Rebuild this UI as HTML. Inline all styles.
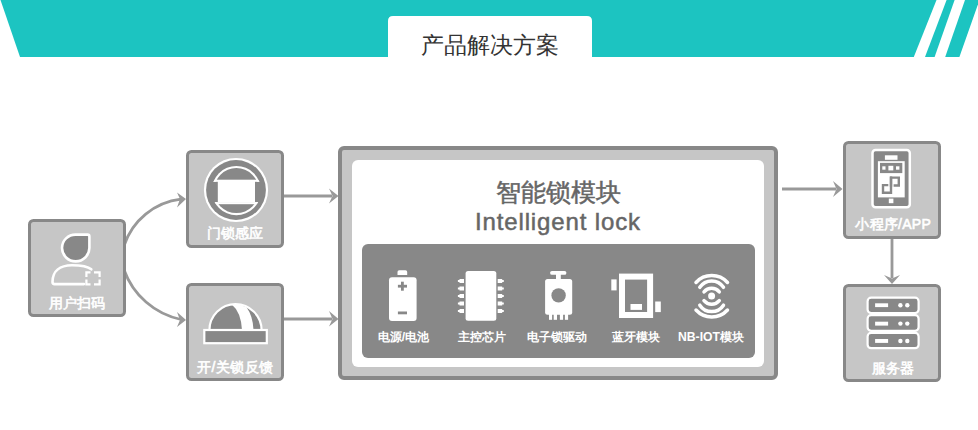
<!DOCTYPE html>
<html><head><meta charset="utf-8">
<style>
html,body{margin:0;padding:0;background:#fff;width:978px;height:430px;overflow:hidden;}
svg{display:block;font-family:"Liberation Sans",sans-serif;}
</style></head>
<body>
<svg width="978" height="430" viewBox="0 0 978 430">
<!-- header banner -->
<polygon points="0.5,0 936.5,0 913.8,57 20,57" fill="#1cc4c1"/>
<polygon points="946.6,0 954.6,0 934.6,57 925,57" fill="#1cc4c1"/>
<polygon points="965,0 979.5,0 959.4,57 945.2,57" fill="#1cc4c1"/>
<path d="M388,57 V21 Q388,16 393,16 H587 Q592,16 592,21 V57 Z" fill="#fff"/>
<text x="490" y="53" font-size="23" fill="#333" text-anchor="middle">产品解决方案</text>

<!-- arrows -->
<g stroke="#999" stroke-width="2.8" fill="none">
<path d="M124,245.7 A68.3,68.3 0 0 1 181,199.2"/>
<path d="M124,269.7 A77.5,77.5 0 0 0 181,319.5"/>
<path d="M284,196 H332"/>
<path d="M284,319 H332"/>
<path d="M782,189 H836"/>
<path d="M892,239 V278"/>
</g>
<g fill="#999">
<path d="M186,199 L177,192.5 L180,199 L177,207.5 Z"/>
<path d="M186,320 L177,312 L180,320 L177,327 Z"/>
<path d="M338.5,196 L329,188.5 L332.5,196 L329,203.5 Z"/>
<path d="M338.5,319 L329,311 L332.5,319 L329,326.5 Z"/>
<path d="M842.5,189 L833,181 L836.5,189 L833,197 Z"/>
<path d="M892,284 L884,275 L892,278.5 L900,275 Z"/>
</g>

<!-- small boxes -->
<g fill="#c6c6c6" stroke="#888" stroke-width="3">
<rect x="29.5" y="220.5" width="95" height="95" rx="4"/>
<rect x="187.5" y="151.5" width="95" height="95" rx="4"/>
<rect x="187.5" y="284.5" width="95" height="95" rx="4"/>
<rect x="844.5" y="142.5" width="95" height="95" rx="4"/>
<rect x="844.5" y="285.5" width="95" height="95" rx="4"/>
</g>

<!-- main box -->
<rect x="340" y="148" width="436" height="230" rx="4" fill="#c6c6c6" stroke="#888" stroke-width="4"/>
<rect x="352" y="160" width="412" height="207" rx="6" fill="#fff"/>
<rect x="362" y="244" width="393" height="114" rx="6" fill="#888"/>

<!-- user icon -->
<g stroke="#fff" stroke-width="2.6" fill="none">
<path d="M75.7,234.6 H87.6 Q89.4,234.6 89.4,236.4 V248 A13.7,13.7 0 0 1 75.7,261.4 A13.7,13.7 0 0 1 62,247.9 A13.5,13.5 0 0 1 75.7,234.6 Z" fill="#888"/>
<path d="M84,284.1 H54.5 Q52.5,284.1 52.5,282 C52.5,271 60,265.2 72,265.2 C82,265.2 88,266.5 91.3,269.3" stroke-linecap="round"/>
</g>
<g stroke="#fff" stroke-width="2.2" fill="none">
<path d="M86.4,277 V272.3 H90.5 M94,272.3 H99.6 V277 M99.6,279.5 V284.4 H94 M90.5,284.4 H86.4 V279.5"/>
</g>

<!-- door icon -->
<circle cx="236" cy="190" r="32.1" fill="#fff"/>
<circle cx="236" cy="190" r="29.9" fill="#888"/>
<clipPath id="ctop"><rect x="200" y="150" width="80" height="31.8"/></clipPath>
<clipPath id="cbot"><rect x="200" y="202.1" width="80" height="40"/></clipPath>
<g clip-path="url(#ctop)"><circle cx="236.4" cy="190.6" r="24.6" fill="#fff"/><circle cx="236.4" cy="190.6" r="22.5" fill="#888"/></g>
<g clip-path="url(#cbot)"><circle cx="236.4" cy="190.6" r="24.6" fill="#fff"/><circle cx="236.4" cy="190.6" r="22.5" fill="#888"/></g>
<rect x="212" y="179.7" width="48" height="2.1" fill="#fff" clip-path="url(#dclip)"/>
<rect x="212" y="202.1" width="48" height="2.1" fill="#fff" clip-path="url(#dclip)"/>
<clipPath id="dclip"><circle cx="236.4" cy="190.6" r="24.6"/></clipPath>
<rect x="217.8" y="181" width="37.2" height="21.5" fill="#fff"/>

<!-- dome icon -->
<path d="M209.4,330.2 A26.1,26.1 0 0 1 261.6,330.2 Z" fill="#888" stroke="#fff" stroke-width="2.2"/>
<path d="M231.5,304.3 Q241,312 242,330 H253.5 Q253,316 246.5,307.2 Q239,303.5 231.5,304.3 Z" fill="#fff"/>
<rect x="204.3" y="330" width="62.5" height="13.2" fill="#888" stroke="#fff" stroke-width="2.2"/>

<!-- battery -->
<g fill="#fff">
<path d="M397.5,275 V272 Q397.5,270.3 399.2,270.3 H405.5 Q407.2,270.3 407.2,272 V275 Z"/>
<rect x="389" y="277.3" width="27.6" height="43.6" rx="3"/>
</g>
<g fill="#888">
<rect x="397.9" y="284.8" width="9.1" height="2.8"/>
<rect x="401" y="281.7" width="2.8" height="9"/>
<rect x="397.9" y="311.5" width="9.1" height="2.8"/>
</g>

<!-- chip -->
<g fill="#fff">
<rect x="465.6" y="270.9" width="30.7" height="49.9" rx="2.5"/>
<g id="pinsL">
<path d="M464,279 V283 H459.5 V282.1 H457.9 V279.9 H459.5 V279 Z"/>
<path d="M464,286.5 V290.5 H459.5 V289.6 H457.9 V287.4 H459.5 V286.5 Z"/>
<path d="M464,294 V298 H459.5 V297.1 H457.9 V294.9 H459.5 V294 Z"/>
<path d="M464,301.5 V305.5 H459.5 V304.6 H457.9 V302.4 H459.5 V301.5 Z"/>
<path d="M464,309 V313 H459.5 V312.1 H457.9 V309.9 H459.5 V309 Z"/>
</g>
<use href="#pinsL" transform="translate(961.7,0) scale(-1,1)"/>
</g>

<!-- lock driver -->
<g fill="#fff">
<rect x="550.1" y="270.9" width="16.3" height="3.9" rx="1.9"/>
<rect x="556" y="274" width="4.8" height="6"/>
<rect x="545.1" y="279" width="27.1" height="35.8" rx="2.5"/>
<rect x="549" y="313" width="3.1" height="6.8"/>
<rect x="553.7" y="313" width="3.3" height="6.8"/>
<rect x="559.9" y="313" width="3.2" height="6.8"/>
<rect x="564.9" y="313" width="3.2" height="6.8"/>
</g>
<circle cx="558.6" cy="295.4" r="7.2" fill="#888"/>

<!-- bluetooth module -->
<rect x="622" y="276.6" width="28.1" height="38.4" fill="none" stroke="#fff" stroke-width="6"/>
<g fill="#fff">
<rect x="630.5" y="304" width="11.5" height="5.9"/>
<rect x="611.3" y="279.4" width="5.3" height="11"/>
<rect x="655.2" y="301.5" width="5.6" height="10.6"/>
</g>

<!-- nb-iot -->
<g stroke="#fff" stroke-width="3.5" fill="none" stroke-linecap="round">
<path d="M696,282.5 A21.4,21.4 0 0 1 727.5,282.5"/>
<path d="M699.8,287.3 A14.2,14.2 0 0 1 723.5,287.3"/>
<path d="M704,291.8 A10,10 0 0 1 719.3,291.8"/>
<path d="M696,310 A21.4,21.4 0 0 0 727.5,310"/>
<path d="M699.8,305.2 A14.2,14.2 0 0 0 723.5,305.2"/>
<path d="M704,300.6 A10,10 0 0 0 719.3,300.6"/>
</g>
<circle cx="711.6" cy="296.1" r="3.5" fill="#fff"/>

<!-- phone -->
<rect x="872.5" y="150" width="37.3" height="57.2" rx="3" fill="#888" stroke="#fff" stroke-width="2.5"/>
<g fill="#fff">
<rect x="884.9" y="155.3" width="12.6" height="4.5"/>
<rect x="877.9" y="161.2" width="26.8" height="36.2"/>
<rect x="888.8" y="198.6" width="4.6" height="4.6"/>
</g>
<rect x="880" y="162.9" width="22.3" height="10.2" fill="#888"/>
<g fill="#fff">
<rect x="882.3" y="166.3" width="3.2" height="3.4"/>
<rect x="888.4" y="165.8" width="4.9" height="4.6"/>
<rect x="896" y="166.3" width="3.4" height="3.4"/>
</g>
<g stroke="#888" stroke-width="2.4" fill="none">
<path d="M891,186.7 V177.6 H898.8 V185.5 H893.6"/>
<path d="M891,176.4 V192.7 H883 V185.1 H888.3"/>
</g>

<!-- server -->
<g fill="#888" stroke="#fff" stroke-width="2.2">
<rect x="867.6" y="297.7" width="51" height="15.3" rx="3.5"/>
<rect x="867.6" y="315.2" width="51" height="15.6" rx="3.5"/>
<rect x="867.6" y="332.9" width="51" height="15.3" rx="3.5"/>
</g>
<g fill="#fff">
<rect x="875.1" y="303.3" width="13" height="3.8"/>
<rect x="875.1" y="321.7" width="13" height="3.9"/>
<rect x="875.1" y="339" width="13" height="3.9"/>
<circle cx="900.4" cy="305.2" r="2.2"/><circle cx="907.3" cy="305.2" r="2.2"/>
<circle cx="900.4" cy="323.6" r="2.2"/><circle cx="907.3" cy="323.6" r="2.2"/>
<circle cx="900.4" cy="341" r="2.2"/><circle cx="907.3" cy="341" r="2.2"/>
</g>

<!-- labels -->
<g fill="#fff" stroke="#fff" stroke-width="0.6" font-size="14" text-anchor="middle">
<text x="77" y="307.5">用户扫码</text>
<text x="235" y="238">门锁感应</text>
<text x="235" y="372" textLength="76" lengthAdjust="spacing">开/关锁反馈</text>
<text x="893" y="229" textLength="75.5" lengthAdjust="spacing">小程序/APP</text>
<text x="892.5" y="372.5">服务器</text>
</g>
<g fill="#666" stroke="#666" stroke-width="0.5" text-anchor="middle">
<text x="558" y="201" font-size="24.5">智能锁模块</text>
<text x="557.5" y="230" font-size="24" textLength="165" lengthAdjust="spacing">Intelligent lock</text>
</g>
<g fill="#fff" font-size="12.2" font-weight="bold" text-anchor="middle">
<text x="403.5" y="341.3">电源/电池</text>
<text x="481.5" y="341.3">主控芯片</text>
<text x="557" y="341.3">电子锁驱动</text>
<text x="635.5" y="341.3">蓝牙模块</text>
<text x="711" y="341.3">NB-IOT模块</text>
</g>
</svg>
</body></html>
